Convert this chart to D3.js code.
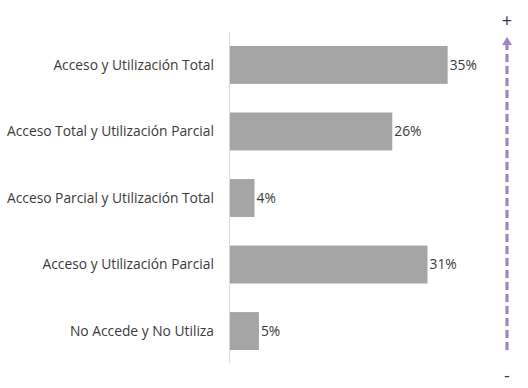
<!DOCTYPE html>
<html>
<head>
<meta charset="utf-8">
<script src="https://cdn.jsdelivr.net/npm/d3@7"></script>
<style>
  body { margin: 0; background: #fff; }
  svg { display: block; font-family: "Open Sans", "Liberation Sans", sans-serif; }
</style>
</head>
<body>
<svg id="chart" width="528" height="388"></svg>
<script>
// categories top to bottom
const categories = [
  'Acceso y Utilización Total',
  'Acceso Total y Utilización Parcial',
  'Acceso Parcial y Utilización Total',
  'Acceso y Utilización Parcial',
  'No Accede y No Utiliza'
]
// shares (%), labels are rounded
const values = [34.6, 25.8, 3.9, 31.4, 4.6]

const svg = d3.select('#chart')
const plotLeft = 229, plotTop = 32, plotBottom = 364

const x = d3.scaleLinear().domain([0, 40]).range([plotLeft, plotLeft + 251.6])
const y = d3.scaleBand().domain(categories).range([plotTop, plotBottom]).paddingInner(0.43).paddingOuter(0.21)

// vertical axis line
svg.append('line')
  .attr('x1', plotLeft + 0.5).attr('x2', plotLeft + 0.5)
  .attr('y1', plotTop).attr('y2', plotBottom - 1)
  .attr('stroke', '#d9d9d9').attr('stroke-width', 1)

const rows = categories.map((c, i) => ({ name: c, value: values[i] }))

svg.selectAll('rect.bar')
  .data(rows)
  .enter()
  .append('rect')
  .attr('class', 'bar')
  .attr('x', x(0) + 1)
  .attr('y', d => y(d.name))
  .attr('width', d => x(d.value) - x(0))
  .attr('height', y.bandwidth())
  .attr('fill', '#a5a5a5')

// category labels
svg.selectAll('text.cat')
  .data(rows)
  .enter()
  .append('text')
  .attr('class', 'cat')
  .attr('x', 214)
  .attr('y', d => y(d.name) + y.bandwidth() / 2)
  .attr('dy', '0.35em')
  .attr('text-anchor', 'end')
  .attr('font-size', 13.8)
  .attr('fill', '#3a3a3a')
  .text(d => d.name)

// value labels
const fmt = v => Math.round(v) + '%'
svg.selectAll('text.val')
  .data(rows)
  .enter()
  .append('text')
  .attr('class', 'val')
  .attr('x', d => x(d.value) + 3)
  .attr('y', d => y(d.name) + y.bandwidth() / 2)
  .attr('dy', '0.35em')
  .attr('font-size', 13.8)
  .attr('fill', '#3a3a3a')
  .text(d => fmt(d.value))

// purple dashed arrow on the right
const ax = 507
svg.append('line')
  .attr('x1', ax).attr('x2', ax)
  .attr('y1', 350).attr('y2', 44)
  .attr('stroke', '#9f85c8')
  .attr('stroke-width', 3.2)
  .attr('stroke-dasharray', '8,4')
svg.append('path')
  .attr('d', `M${ax - 5},45 L${ax},37 L${ax + 5},45 Z`)
  .attr('fill', '#9f85c8')

svg.append('text')
  .attr('x', ax).attr('y', 27)
  .attr('text-anchor', 'middle')
  .attr('font-size', 18)
  .attr('fill', '#3f2f5e')
  .text('+')
svg.append('text')
  .attr('x', ax).attr('y', 382)
  .attr('text-anchor', 'middle')
  .attr('font-size', 18)
  .attr('fill', '#3f2f5e')
  .text('-')
</script>
</body>
</html>
